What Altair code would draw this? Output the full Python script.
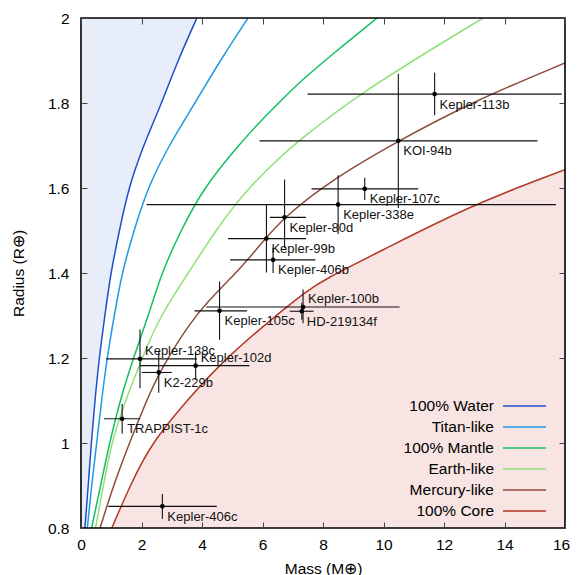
import altair as alt
import pandas as pd

# ---------------- model curves (mass in Earth masses, radius in Earth radii) ----------------
model_names = ["100% Water", "Titan-like", "100% Mantle", "Earth-like", "Mercury-like", "100% Core"]
model_colors = ["#1f4fc8", "#1e9be0", "#12c062", "#8fe07a", "#8c4b3c", "#b03a26"]

water_mass = [0.13, 0.24, 0.34, 0.46, 0.60, 0.79, 0.98, 1.27, 1.57, 2.06, 2.67, 3.20, 3.83]
water_radius = [0.80, 0.90, 1.00, 1.10, 1.20, 1.30, 1.40, 1.50, 1.60, 1.70, 1.80, 1.90, 2.00]

titan_mass = [0.21, 0.35, 0.52, 0.68, 0.86, 1.10, 1.35, 1.75, 2.20, 2.90, 3.77, 4.60, 5.52]
titan_radius = [0.80, 0.90, 1.00, 1.10, 1.20, 1.30, 1.40, 1.50, 1.60, 1.70, 1.80, 1.90, 2.00]

mantle_mass = [0.35, 0.65, 0.94, 1.29, 1.73, 2.23, 2.66, 3.30, 4.05, 5.20, 5.93, 6.59, 7.25, 8.40, 9.79]
mantle_radius = [0.80, 0.90, 1.00, 1.10, 1.20, 1.30, 1.40, 1.50, 1.60, 1.70, 1.757, 1.804, 1.851, 1.92, 2.00]

earth_mass = [0.48, 0.74, 1.00, 1.47, 2.02, 2.62, 3.55, 4.45, 5.10, 5.55, 6.59, 7.25, 9.13, 13.29]
earth_radius = [0.80, 0.90, 1.00, 1.10, 1.20, 1.30, 1.40, 1.50, 1.561, 1.60, 1.674, 1.714, 1.82, 2.00]

mercury_mass = [0.63, 1.07, 1.60, 2.17, 2.59, 3.83, 5.15, 5.93, 6.70, 8.30, 10.49, 13.00, 16.00]
mercury_radius = [0.80, 0.90, 1.00, 1.10, 1.168, 1.311, 1.40, 1.467, 1.531, 1.62, 1.711, 1.805, 1.894]

core_mass = [1.02, 1.62, 2.33, 3.50, 4.60, 5.93, 7.50, 8.02, 10.00, 12.94, 16.00]
core_radius = [0.80, 0.90, 1.00, 1.10, 1.186, 1.27, 1.36, 1.384, 1.455, 1.561, 1.643]

# ---------------- planets ----------------
planet_names = ["Kepler-113b", "KOI-94b", "Kepler-107c", "Kepler-338e", "Kepler-80d",
                "Kepler-99b", "Kepler-406b", "Kepler-105c", "Kepler-100b", "HD-219134f",
                "Kepler-138c", "Kepler-102d", "K2-229b", "TRAPPIST-1c", "Kepler-406c"]
planet_mass = [11.69, 10.49, 9.38, 8.50, 6.73, 6.13, 6.35, 4.58, 7.34, 7.30, 1.95, 3.79, 2.57, 1.36, 2.69]
planet_mass_lo = [7.49, 5.90, 7.62, 2.17, 6.24, 4.86, 4.93, 3.75, 4.14, 6.90, 0.83, 1.95, 2.01, 0.76, 0.90]
planet_mass_hi = [15.89, 15.09, 11.15, 15.70, 7.44, 7.44, 7.75, 5.49, 10.53, 7.69, 3.83, 5.57, 3.00, 1.95, 4.49]
planet_radius = [1.821, 1.711, 1.598, 1.561, 1.531, 1.481, 1.431, 1.311, 1.320, 1.310, 1.198, 1.182, 1.166, 1.057, 0.851]
planet_radius_lo = [1.771, 1.553, 1.572, 1.492, 1.459, 1.401, 1.400, 1.243, 1.282, 1.290, 1.129, 1.149, 1.118, 1.022, 0.821]
planet_radius_hi = [1.871, 1.869, 1.624, 1.630, 1.620, 1.561, 1.459, 1.380, 1.361, 1.330, 1.267, 1.216, 1.216, 1.092, 0.880]
labels_above = ["Kepler-100b", "Kepler-138c", "Kepler-102d"]

x_ticks = [0, 2, 4, 6, 8, 10, 12, 14, 16]
y_ticks = [0.8, 1.0, 1.2, 1.4, 1.6, 1.8, 2.0]
x_domain = [0, 16]
y_domain = [0.8, 2.0]

# ---------------- tables ----------------
curve_sets = [(water_mass, water_radius), (titan_mass, titan_radius), (mantle_mass, mantle_radius),
              (earth_mass, earth_radius), (mercury_mass, mercury_radius), (core_mass, core_radius)]
rows = []
for name, (ms, rs) in zip(model_names, curve_sets):
    for i, (m, r) in enumerate(zip(ms, rs)):
        rows.append({"model": name, "mass": m, "radius": r, "i": i})
curves = pd.DataFrame(rows)
water_df = pd.DataFrame({"mass": water_mass, "radius": water_radius})
core_df = pd.DataFrame({"mass": core_mass, "radius": core_radius})
legend_df = pd.DataFrame({"model": model_names})

planets = pd.DataFrame({
    "name": planet_names, "mass": planet_mass, "mass_lo": planet_mass_lo, "mass_hi": planet_mass_hi,
    "radius": planet_radius, "radius_lo": planet_radius_lo, "radius_hi": planet_radius_hi,
})
planets["above"] = planets["name"].isin(labels_above)

FONT = "Liberation Sans"
xs = alt.Scale(domain=x_domain, nice=False, zero=False)
ys = alt.Scale(domain=y_domain, nice=False, zero=False)
color_scale = alt.Scale(domain=model_names, range=model_colors)

x_axis = alt.Axis(title="Mass (M⊕)", values=x_ticks, grid=True, gridDash=[6, 498, 6],
                  gridColor="#444444", gridWidth=1, ticks=False, tickSize=0, domain=False,
                  labelPadding=9, labelFontSize=15.5, labelFont=FONT, labelColor="black",
                  labelOffset={"condition": {"test": f"datum.value == {x_domain[1]}", "value": -4},
                               "value": 0},
                  titleFont=FONT, titleFontSize=15.5, titleFontWeight="normal", titleColor="black",
                  titlePadding=9, labelFlush=False, zindex=1)
y_axis = alt.Axis(title="Radius (R⊕)", values=y_ticks, format="~g", grid=True, gridDash=[6, 472, 6],
                  gridColor="#444444", gridWidth=1, ticks=False, tickSize=0, domain=False,
                  labelPadding=12, labelFontSize=15.5, labelFont=FONT, labelColor="black",
                  titleFont=FONT, titleFontSize=15.5, titleFontWeight="normal", titleColor="black",
                  titlePadding=21, labelFlush=False, zindex=1)


def X(field):
    return alt.X(field, type="quantitative", scale=xs, axis=x_axis, title="Mass (M⊕)")


def Y(field):
    return alt.Y(field, type="quantitative", scale=ys, axis=y_axis, title="Radius (R⊕)")


water_fill = alt.Chart(water_df).mark_area(
    orient="horizontal", color="#e7eefa", interpolate="basis", clip=True
).encode(x=X("mass"), y=Y("radius"))

core_fill = alt.Chart(core_df).mark_area(
    orient="vertical", color="#f8e5e3", interpolate="basis", clip=True
).encode(x=X("mass"), y=Y("radius"), y2=alt.datum(y_domain[0]))

lines = alt.Chart(curves).mark_line(
    interpolate="basis", strokeWidth=1.5, clip=True
).encode(
    x=X("mass"), y=Y("radius"),
    color=alt.Color("model:N", scale=color_scale, legend=None),
    order=alt.Order("i:Q"),
)

hbars = alt.Chart(planets).mark_rule(color="#111111", strokeWidth=1.1).encode(
    x=X("mass_lo"), x2=alt.X2("mass_hi"), y=Y("radius"))
vbars = alt.Chart(planets).mark_rule(color="#111111", strokeWidth=1.1).encode(
    x=X("mass"), y=Y("radius_lo"), y2=alt.Y2("radius_hi"))
dots = alt.Chart(planets).mark_circle(color="black", size=22, opacity=1).encode(
    x=X("mass"), y=Y("radius"))

labels_below = alt.Chart(planets).transform_filter("!datum.above").mark_text(
    align="left", baseline="middle", dx=5, dy=10.5, fontSize=13, font=FONT, color="#111111"
).encode(x=X("mass"), y=Y("radius"), text="name:N")
labels_top = alt.Chart(planets).transform_filter("datum.above").mark_text(
    align="left", baseline="middle", dx=5, dy=-8, fontSize=13, font=FONT, color="#111111"
).encode(x=X("mass"), y=Y("radius"), text="name:N")

frame = alt.Chart(pd.DataFrame({"k": [0]})).mark_rect(
    filled=False, stroke="black", strokeWidth=1.6
).encode(x=alt.datum(x_domain[0]), x2=alt.datum(x_domain[1]),
         y=alt.datum(y_domain[0]), y2=alt.datum(y_domain[1]))

main = alt.layer(water_fill, core_fill, lines, hbars, vbars, dots, labels_below, labels_top, frame)

# legend drawn as marks: entries stacked on a point scale, key lines to the right of the labels
leg_y = alt.Y("model:N", scale=alt.Scale(type="point", domain=model_names, range=[388, 493], padding=0),
              axis=None)
leg_lines = alt.Chart(legend_df).mark_rule(strokeWidth=1.6).encode(
    x=alt.value(422), x2=alt.value(465), y=leg_y,
    color=alt.Color("model:N", scale=color_scale, legend=None))
leg_text = alt.Chart(legend_df).mark_text(
    align="right", baseline="middle", fontSize=15.5, font=FONT, color="black"
).encode(x=alt.value(413), y=leg_y, text="model:N")
legend = alt.layer(leg_lines, leg_text)

chart = alt.layer(main, legend).resolve_scale(y="independent").properties(
    width=484, height=510,
    autosize=alt.AutoSizeParams(type="none"),
    padding={"left": 73, "top": 10, "right": 5, "bottom": 60},
    background="white",
).configure_view(stroke=None)

chart.save("out.html", embed_options={"renderer": "svg", "actions": False})
